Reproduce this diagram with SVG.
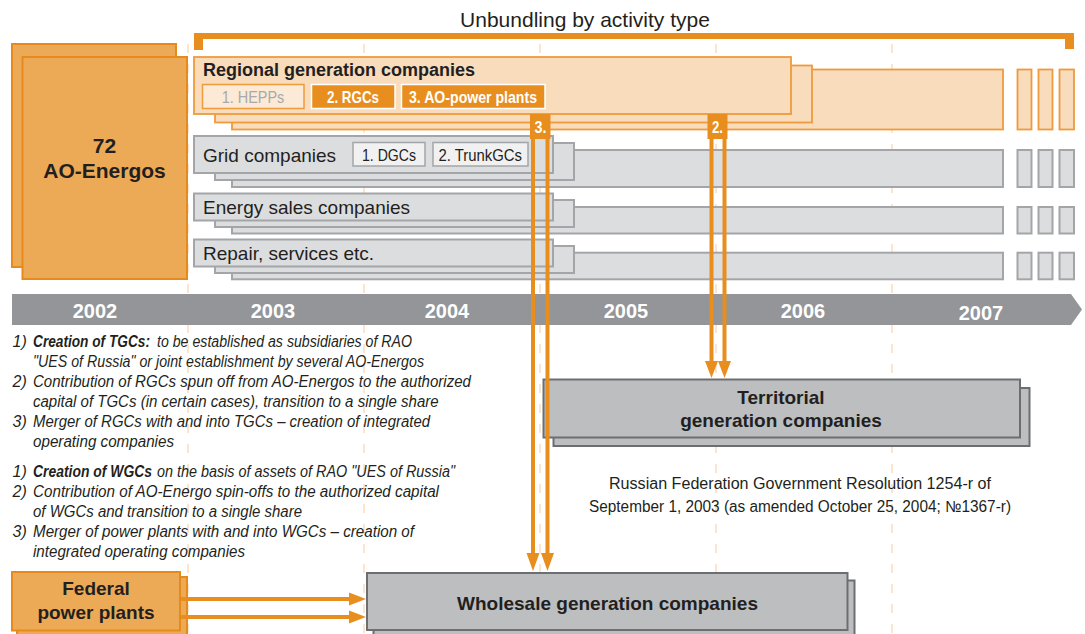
<svg xmlns="http://www.w3.org/2000/svg" width="1085" height="634" viewBox="0 0 1085 634">
<defs>
<style>
text{font-family:"Liberation Sans",Arial,Helvetica,sans-serif;fill:#231F20}
.b{font-weight:bold}
.w{fill:#fff}
.c{text-anchor:middle}
.ao{fill:#EDAA56;stroke:#E68A1C;stroke-width:2}
.pe{fill:#F8DCBC;stroke:#EE9B3D;stroke-width:1.8}
.gr{fill:#DCDDDF;stroke:#A3A5A8;stroke-width:2}
.dk{fill:#BCBEC0;stroke:#6D6E71;stroke-width:2}
.ln{stroke:#E88E1E;stroke-width:4;fill:none}
.ah{fill:#E88E1E}
.dash{stroke:#FBDDBF;stroke-width:1.5;stroke-dasharray:9 11}
.yr{font-size:20px;font-weight:bold;fill:#fff;text-anchor:middle}
.nt{font-size:16px;font-style:italic}
.sub{font-size:17px}
.row{font-size:19px}
</style>
</defs>
<rect width="1085" height="634" fill="#fff"/>

<g id="gridlines">
<line class="dash" x1="188" y1="44" x2="188" y2="634"/>
<line class="dash" x1="364" y1="44" x2="364" y2="634"/>
<line class="dash" x1="540" y1="44" x2="540" y2="634"/>
<line class="dash" x1="716" y1="44" x2="716" y2="634"/>
<line class="dash" x1="892" y1="44" x2="892" y2="634"/>
</g>

<g id="title">
<text x="585" y="27" class="c" font-size="21">Unbundling by activity type</text>
<path d="M194,33 H1074 V49 H1065 V39 H203 V50 H194 Z" fill="#E88E1E"/>
</g>

<g id="ao-energos">
<rect class="ao" x="12" y="44" width="164" height="223"/>
<rect class="ao" x="22.5" y="57" width="164.5" height="222"/>
<text x="104.5" y="153" class="b c" font-size="21">72</text>
<text x="104.5" y="178" class="b c" font-size="21">AO-Energos</text>
</g>

<g id="regional-generation">
<rect class="pe" x="232" y="69.5" width="771" height="60"/>
<rect class="pe" x="1017.5" y="69.5" width="14" height="60"/>
<rect class="pe" x="1038.5" y="69.5" width="14" height="60"/>
<rect class="pe" x="1059.5" y="69.5" width="14.5" height="60"/>
<rect class="pe" x="215" y="65.5" width="597" height="57"/>
<rect class="pe" x="194" y="57" width="597" height="57"/>
<text x="203" y="75.5" class="b" font-size="18">Regional generation companies</text>
<rect x="202.5" y="84.5" width="101.5" height="24" fill="#FCE9D6" stroke="#EE9B3D" stroke-width="1.5"/>
<text x="253" y="102.5" class="sub c" style="fill:#A7A9AC" textLength="62.6" lengthAdjust="spacingAndGlyphs">1. HEPPs</text>
<rect x="311.5" y="84.5" width="83.5" height="24" fill="#E88E1E" stroke="#fff" stroke-width="1.5"/>
<text x="353" y="102.5" class="sub b c w" textLength="52" lengthAdjust="spacingAndGlyphs">2. RGCs</text>
<rect x="401.5" y="84.5" width="143.5" height="24" fill="#E88E1E" stroke="#fff" stroke-width="1.5"/>
<text x="473" y="102.5" class="sub b c w" textLength="128" lengthAdjust="spacingAndGlyphs">3. AO-power plants</text>
</g>

<g id="grid-companies">
<rect class="gr" x="232" y="150" width="771" height="37"/>
<rect class="gr" x="1017.5" y="150" width="14" height="37"/>
<rect class="gr" x="1038.5" y="150" width="14" height="37"/>
<rect class="gr" x="1059.5" y="150" width="14.5" height="37"/>
<rect class="gr" x="215" y="143" width="359" height="37"/>
<rect class="gr" x="194" y="136" width="359" height="37"/>
<text x="203" y="161.5" class="row">Grid companies</text>
<rect x="353" y="142.5" width="72" height="23.5" fill="#F1F1F2" stroke="#A3A5A8" stroke-width="1.5"/>
<text x="389" y="160.5" class="c" font-size="16" textLength="54" lengthAdjust="spacingAndGlyphs">1. DGCs</text>
<rect x="433" y="142.5" width="95" height="23.5" fill="#F1F1F2" stroke="#A3A5A8" stroke-width="1.5"/>
<text x="480.3" y="160.5" class="c" font-size="16" textLength="83.4" lengthAdjust="spacingAndGlyphs">2. TrunkGCs</text>
</g>

<g id="energy-sales">
<rect class="gr" x="232" y="207" width="771" height="26.5"/>
<rect class="gr" x="1017.5" y="207" width="14" height="26.5"/>
<rect class="gr" x="1038.5" y="207" width="14" height="26.5"/>
<rect class="gr" x="1059.5" y="207" width="14.5" height="26.5"/>
<rect class="gr" x="215" y="200" width="359" height="27"/>
<rect class="gr" x="194" y="193.5" width="359" height="27"/>
<text x="203" y="214" class="row">Energy sales companies</text>
</g>

<g id="repair-services">
<rect class="gr" x="232" y="252.7" width="771" height="26.6"/>
<rect class="gr" x="1017.5" y="252.7" width="14" height="26.6"/>
<rect class="gr" x="1038.5" y="252.7" width="14" height="26.6"/>
<rect class="gr" x="1059.5" y="252.7" width="14.5" height="26.6"/>
<rect class="gr" x="215" y="246" width="359" height="27"/>
<rect class="gr" x="194" y="239.5" width="359" height="27"/>
<text x="203" y="260" class="row">Repair, services etc.</text>
</g>

<g id="timeline">
<path d="M12,294 H1071 L1082,309.5 L1071,325 H12 Z" fill="#939598"/>
<text x="95" y="318" class="yr">2002</text>
<text x="273" y="318" class="yr">2003</text>
<text x="447" y="318" class="yr">2004</text>
<text x="626" y="318" class="yr">2005</text>
<text x="803" y="318" class="yr">2006</text>
<text x="981" y="320" class="yr">2007</text>
</g>

<g id="notes-tgc">
<text class="nt" x="12.5" y="346.5">1)</text>
<text class="nt b" x="33" y="346.5" textLength="117" lengthAdjust="spacingAndGlyphs">Creation of TGCs:</text>
<text class="nt" x="157" y="346.5" textLength="255" lengthAdjust="spacingAndGlyphs">to be established as subsidiaries of RAO</text>
<text class="nt" x="33" y="366.5" textLength="391" lengthAdjust="spacingAndGlyphs">"UES of Russia" or joint establishment by several AO-Energos</text>
<text class="nt" x="12.5" y="386.5">2)</text>
<text class="nt" x="33" y="386.5" textLength="438" lengthAdjust="spacingAndGlyphs">Contribution of RGCs spun off from AO-Energos to the authorized</text>
<text class="nt" x="33" y="406.5" textLength="405.6" lengthAdjust="spacingAndGlyphs">capital of TGCs (in certain cases), transition to a single share</text>
<text class="nt" x="12.5" y="426.5">3)</text>
<text class="nt" x="33" y="426.5" textLength="397" lengthAdjust="spacingAndGlyphs">Merger of RGCs with and into TGCs – creation of integrated</text>
<text class="nt" x="33" y="446.5" textLength="141" lengthAdjust="spacingAndGlyphs">operating companies</text>
</g>

<g id="notes-wgc">
<text class="nt" x="12.5" y="476.5">1)</text>
<text class="nt b" x="33" y="476.5" textLength="119" lengthAdjust="spacingAndGlyphs">Creation of WGCs</text>
<text class="nt" x="157" y="476.5" textLength="298" lengthAdjust="spacingAndGlyphs">on the basis of assets of RAO "UES of Russia"</text>
<text class="nt" x="12.5" y="496.5">2)</text>
<text class="nt" x="33" y="496.5" textLength="406" lengthAdjust="spacingAndGlyphs">Contribution of AO-Energo spin-offs to the authorized capital</text>
<text class="nt" x="33" y="516.5" textLength="269" lengthAdjust="spacingAndGlyphs">of WGCs and transition to a single share</text>
<text class="nt" x="12.5" y="536.5">3)</text>
<text class="nt" x="33" y="536.5" textLength="381" lengthAdjust="spacingAndGlyphs">Merger of power plants with and into WGCs – creation of</text>
<text class="nt" x="33" y="556.5" textLength="212" lengthAdjust="spacingAndGlyphs">integrated operating companies</text>
</g>

<g id="territorial-generation">
<rect class="dk" x="553.5" y="388" width="476" height="58"/>
<rect class="dk" x="543.5" y="379.5" width="476.5" height="58"/>
<text x="781" y="403.5" class="b c" font-size="19">Territorial</text>
<text x="781" y="427" class="b c" font-size="19">generation companies</text>
</g>

<g id="resolution">
<text x="800" y="489" class="c" font-size="16" textLength="382" lengthAdjust="spacingAndGlyphs">Russian Federation Government Resolution 1254-r of</text>
<text x="800" y="512" class="c" font-size="16" textLength="422" lengthAdjust="spacingAndGlyphs">September 1, 2003 (as amended October 25, 2004; №1367-r)</text>
</g>

<g id="wholesale-generation">
<rect class="dk" x="373.5" y="580.5" width="481" height="60"/>
<rect class="dk" x="367" y="573" width="480.5" height="57"/>
<text x="607.5" y="610" class="b c" font-size="19">Wholesale generation companies</text>
</g>

<g id="federal-power-plants">
<rect class="ao" x="17" y="577" width="170" height="60"/>
<rect class="ao" x="12" y="572" width="168" height="58.5"/>
<text x="96" y="595" class="b c" font-size="19">Federal</text>
<text x="96" y="619" class="b c" font-size="19">power plants</text>
</g>

<g id="connectors">
<line class="ln" x1="533" y1="139" x2="533" y2="554"/>
<line class="ln" x1="547.5" y1="139" x2="547.5" y2="554"/>
<polygon class="ah" points="526.5,553 539.5,553 533,571"/>
<polygon class="ah" points="541,553 554,553 547.5,571"/>
<rect x="530" y="114" width="20.5" height="25" fill="#E88E1E"/>
<text x="540.5" y="133" class="b c w" font-size="17" textLength="12" lengthAdjust="spacingAndGlyphs">3.</text>

<line class="ln" x1="711.5" y1="139" x2="711.5" y2="362"/>
<line class="ln" x1="724.5" y1="139" x2="724.5" y2="362"/>
<polygon class="ah" points="705,361 718,361 711.5,378"/>
<polygon class="ah" points="718,361 731,361 724.5,378"/>
<rect x="707.5" y="114" width="20" height="25" fill="#E88E1E"/>
<text x="717.5" y="133" class="b c w" font-size="17" textLength="11" lengthAdjust="spacingAndGlyphs">2.</text>

<line class="ln" x1="181" y1="599" x2="350" y2="599"/>
<line class="ln" x1="181" y1="617" x2="350" y2="617"/>
<polygon class="ah" points="349,592.5 349,605.5 366,599"/>
<polygon class="ah" points="349,610.5 349,623.5 366,617"/>
</g>
</svg>
